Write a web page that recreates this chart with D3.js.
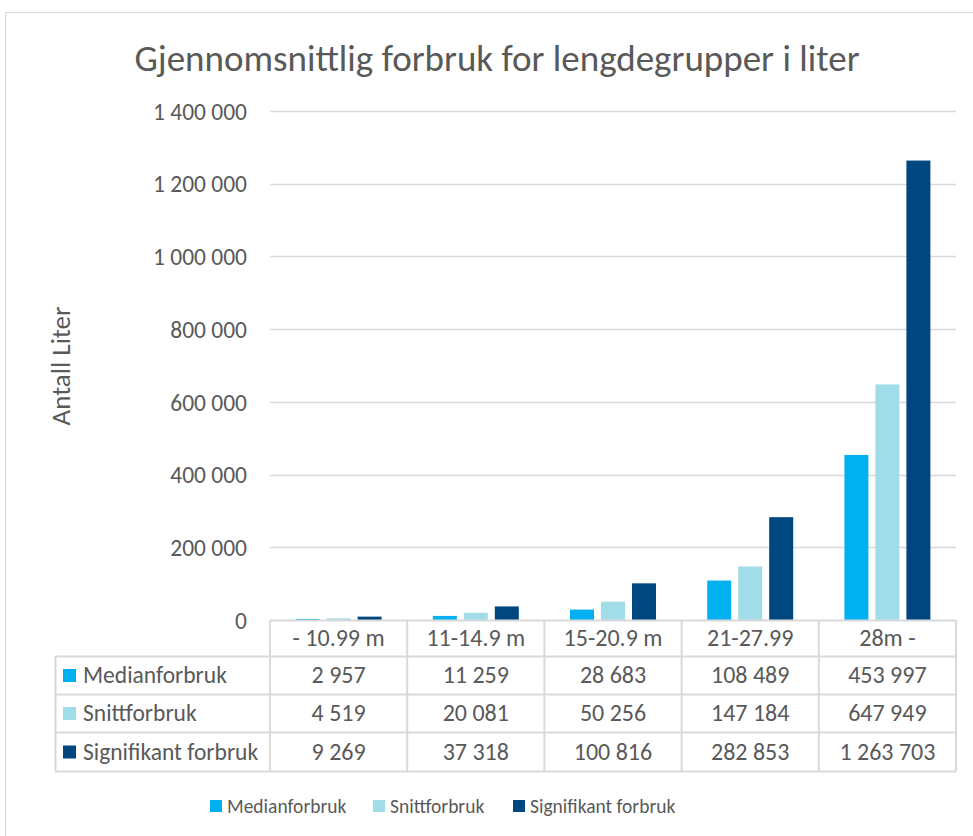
<!DOCTYPE html>
<html><head><meta charset="utf-8">
<script src="https://cdn.jsdelivr.net/npm/d3@7"></script>
<style>
body{margin:0;background:#fff;}
text{font-family:Carlito, Lato, "Open Sans", sans-serif;fill:#595959;}
</style></head>
<body><svg id="c" width="973" height="836"></svg>
<script>
const categories = ["- 10.99 m","11-14.9 m","15-20.9 m","21-27.99","28m -"];
const seriesNames = ["Medianforbruk","Snittforbruk","Signifikant forbruk"];
const median = [2957,11259,28683,108489,453997];
const snitt = [4519,20081,50256,147184,647949];
const signifikant = [9269,37318,100816,282853,1263703];
const yTicks = [0,200000,400000,600000,800000,1000000,1200000,1400000];
const colors = ["#00B0F0","#A1DDE9","#00467F"];
const seriesValues = [median, snitt, signifikant];

(function(){
const fmt = v => d3.format(",")(v).replace(/,/g," ");
const svg = d3.select("#c");

svg.append("rect").attr("x",5.5).attr("y",12.5).attr("width",990).attr("height",850)
  .attr("fill","#fff").attr("stroke","#D9D9D9");

svg.append("text").attr("x",497).attr("y",71).attr("text-anchor","middle")
  .style("font-size","37px").text("Gjennomsnittlig forbruk for lengdegrupper i liter");

const pL=270, pR=956, pT=111, pB=620;
const x0 = d3.scaleBand().domain(categories).range([pL,pR]).paddingInner(0).paddingOuter(0);
const x1 = d3.scaleBand().domain(seriesNames).range([0,x0.bandwidth()]).paddingInner(0.226).paddingOuter(0.826);
const y = d3.scaleLinear().domain([0,1400000]).range([pB,pT]);

svg.append("g").selectAll("line").data(yTicks.filter(d=>d>0)).join("line")
  .attr("x1",pL).attr("x2",pR).attr("y1",d=>Math.round(y(d))+0.5).attr("y2",d=>Math.round(y(d))+0.5)
  .attr("stroke","#D9D9D9").attr("stroke-width",1.3);

const yAxis = d3.axisLeft(y).tickValues(yTicks).tickFormat(fmt).tickSize(0).tickPadding(0);
const ga = svg.append("g").attr("transform",`translate(247,0)`).call(yAxis);
ga.select(".domain").remove();
ga.selectAll("text").style("font-size","23.5px").attr("fill","#595959").attr("dy","0.35em")
  .style("font-family","Carlito, Lato, 'Open Sans', sans-serif");

svg.append("text").attr("transform","translate(70,366) rotate(-90)").attr("text-anchor","middle")
  .style("font-size","27px").text("Antall Liter");

seriesNames.forEach((s,si)=>{
  svg.append("g").selectAll("rect").data(seriesValues[si]).join("rect")
    .attr("x",(d,i)=>x0(categories[i])+x1(s)).attr("width",x1.bandwidth())
    .attr("y",d=>y(d)).attr("height",d=>y(0)-y(d)).attr("fill",colors[si]);
});

const tLeft=55, rowTops=[620,656,694,732,771];
const tg = svg.append("g");
const lineC="#D9D9D9";
tg.append("line").attr("x1",pL).attr("x2",pR).attr("y1",620.5).attr("y2",620.5).attr("stroke",lineC).attr("stroke-width",2);
[656,694,732,771].forEach(yy=>tg.append("line").attr("x1",tLeft).attr("x2",pR).attr("y1",yy+0.5).attr("y2",yy+0.5).attr("stroke",lineC).attr("stroke-width",2));
tg.append("line").attr("x1",tLeft+0.5).attr("x2",tLeft+0.5).attr("y1",656).attr("y2",771).attr("stroke",lineC).attr("stroke-width",2);
const vx = categories.map(c=>x0(c)).concat([pR]);
vx.forEach(xx=>tg.append("line").attr("x1",xx).attr("x2",xx).attr("y1",620).attr("y2",771).attr("stroke",lineC).attr("stroke-width",2));
tg.selectAll("text.h").data(categories).join("text").attr("class","h")
  .attr("x",d=>x0(d)+x0.bandwidth()/2).attr("y",638).attr("dy","0.35em").attr("text-anchor","middle")
  .style("font-size","24px").text(d=>d);
seriesNames.forEach((s,si)=>{
  const cy=(rowTops[si+1]+rowTops[si+2])/2;
  tg.append("rect").attr("x",63).attr("y",cy-6).attr("width",13).attr("height",13).attr("fill",colors[si]);
  tg.append("text").attr("x",83).attr("y",cy).attr("dy","0.35em").style("font-size","23.5px").text(s);
  tg.selectAll(null).data(seriesValues[si]).join("text")
    .attr("x",(d,i)=>x0(categories[i])+x0.bandwidth()/2).attr("y",cy).attr("dy","0.35em")
    .attr("text-anchor","middle").style("font-size","24px").text(d=>fmt(d));
});

const legX=[210,373,513];
seriesNames.forEach((s,si)=>{
  svg.append("rect").attr("x",legX[si]).attr("y",800).attr("width",12).attr("height",12).attr("fill",colors[si]);
  svg.append("text").attr("x",legX[si]+17).attr("y",806).attr("dy","0.35em").style("font-size","19.5px").text(s);
});
})();
</script></body></html>
